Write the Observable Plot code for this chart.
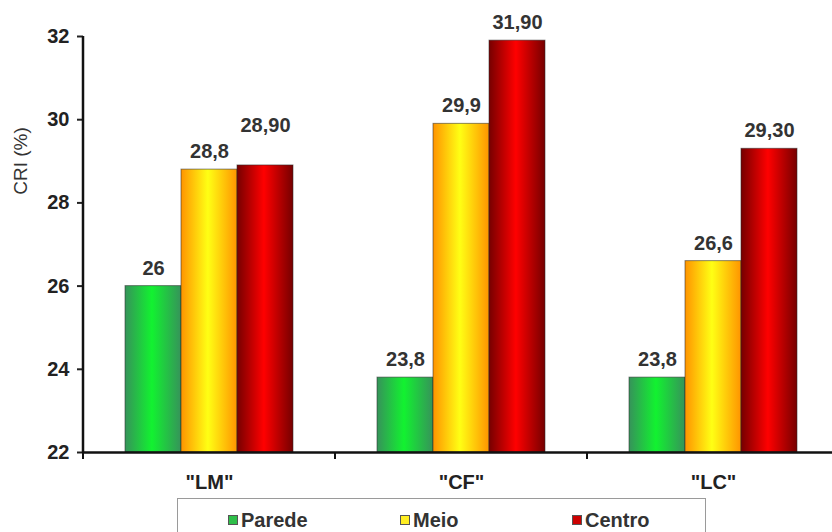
<!DOCTYPE html>
<html>
<head>
<meta charset="utf-8">
<script src="https://cdn.jsdelivr.net/npm/d3@7"></script>
<script src="https://cdn.jsdelivr.net/npm/@observablehq/plot@0.6"></script>
<style>
  html, body { margin: 0; padding: 0; background: #fff; overflow: hidden; width: 832px; height: 532px; }
  #chart { position: relative; width: 832px; height: 532px; overflow: hidden; }
  .legend {
    position: absolute; left: 177px; top: 498px; width: 529px; height: 40px;
    border: 1px solid #9a9a9a; box-sizing: border-box;
    display: grid; grid-template-columns: repeat(3, 172px);
    padding-left: 50px; padding-top: 4px;
    font: bold 20px "Liberation Sans", Arial, sans-serif; color: #333;
  }
  .item { display: flex; align-items: center; gap: 3px; line-height: 22px; }
  .sw { width: 10px; height: 10px; border: 1px solid #555; box-sizing: border-box; }
</style>
</head>
<body>
<div id="chart"></div>
<script>
// CRI (%) by position (Parede / Meio / Centro) for each treatment
const groups = ['"LM"', '"CF"', '"LC"'];
const series = ["Parede", "Meio", "Centro"];
const parede = [26, 23.8, 23.8];
const meio = [28.8, 29.9, 26.6];
const centro = [28.9, 31.9, 29.3];
const yDomain = [22, 32];
const yTicks = [22, 24, 26, 28, 30, 32];
const yLabel = "CRI (%)";

// cylinder-like shading: edge colour, centre colour
const shades = {
  Parede: ["#36935a", "#12f230"],
  Meio: ["#ff9400", "#ffff14"],
  Centro: ["#760000", "#ff0000"]
};
const swatch = { Parede: "#2fbf4a", Meio: "#ffee22", Centro: "#cc0000" };

const values = { Parede: parede, Meio: meio, Centro: centro };
const rows = [];
groups.forEach((g, i) => series.forEach(s => rows.push({ grupo: g, serie: s, valor: values[s][i] })));

const fmt = d => d.serie === "Centro"
  ? d.valor.toFixed(2).replace(".", ",")
  : String(d.valor).replace(".", ",");

// the first treatment's Centro label sits higher above its bar
const raised = d => d.grupo === groups[0] && d.serie === "Centro";

const yMin = yDomain[0];

const chart = Plot.plot({
  width: 840,
  height: 496,
  marginLeft: 83,
  marginRight: 1,
  marginTop: 36,
  marginBottom: 44,
  style: { fontFamily: '"Liberation Sans", Arial, sans-serif', fontSize: "20px", fontWeight: "bold", color: "#222", background: "#fff", overflow: "visible", maxWidth: "none" },
  fx: { domain: groups, padding: 0, label: null },
  x: { domain: series, paddingInner: 0, paddingOuter: 0.73, axis: null },
  y: { domain: yDomain },
  color: { domain: series, range: series.map(s => `url(#shade-${s})`) },
  marks: [
    Plot.barY(rows, { fx: "grupo", x: "serie", y1: yMin, y2: "valor", fill: "serie", stroke: "#2a2a2a", strokeOpacity: 0.55, strokeWidth: 1 }),
    Plot.ruleY([yMin], { stroke: "#111", strokeWidth: 2.5 }),
    Plot.axisY({ ticks: yTicks, tickSize: 6, tickPadding: 8, strokeWidth: 2, label: null, tickFormat: d => String(d) }),
    Plot.axisFx({ anchor: "bottom", tickSize: 0, tickPadding: 22, label: null }),
    Plot.text(rows.filter(d => !raised(d)), { fx: "grupo", x: "serie", y: "valor", text: fmt, dy: -18, lineAnchor: "middle", fill: "#333" }),
    Plot.text(rows.filter(raised), { fx: "grupo", x: "serie", y: "valor", text: fmt, dy: -40, lineAnchor: "middle", fill: "#333" })
  ]
});

// gradient definitions for the bar fills
const svg = d3.select(chart);
const defs = svg.insert("defs", ":first-child");
for (const s of series) {
  const g = defs.append("linearGradient").attr("id", `shade-${s}`)
    .attr("x1", 0).attr("x2", 1).attr("y1", 0).attr("y2", 0);
  g.append("stop").attr("offset", "0%").attr("stop-color", shades[s][0]);
  g.append("stop").attr("offset", "48%").attr("stop-color", shades[s][1]);
  g.append("stop").attr("offset", "100%").attr("stop-color", shades[s][0]);
}

// y axis line and the category boundary ticks, placed with the plot's scales
const ys = chart.scale("y");
const fxs = chart.scale("fx");
const y0 = ys.apply(yDomain[0]), y1 = ys.apply(yDomain[1]);
const bounds = groups.map(g => fxs.apply(g));
bounds.push(bounds[bounds.length - 1] + fxs.bandwidth);
svg.append("line").attr("x1", bounds[0]).attr("x2", bounds[0]).attr("y1", y0 + 1).attr("y2", y1)
  .attr("stroke", "#111").attr("stroke-width", 2.5);
for (const b of bounds) {
  svg.append("line").attr("x1", b).attr("x2", b).attr("y1", y0).attr("y2", y0 + 7)
    .attr("stroke", "#111").attr("stroke-width", 2);
}
svg.append("text")
  .attr("transform", `translate(22,${(y1 + y0) / 2 - 83}) rotate(-90)`)
  .attr("text-anchor", "middle").attr("dominant-baseline", "middle")
  .attr("font-size", 19).attr("font-weight", "normal").attr("fill", "#333")
  .text(yLabel);

const host = document.getElementById("chart");
host.appendChild(chart);

// legend below the plot
const legend = document.createElement("div");
legend.className = "legend";
for (const s of series) {
  const item = document.createElement("div");
  item.className = "item";
  const sw = document.createElement("span");
  sw.className = "sw";
  sw.style.background = swatch[s];
  item.appendChild(sw);
  item.appendChild(document.createTextNode(s));
  legend.appendChild(item);
}
host.appendChild(legend);
</script>
</body>
</html>
